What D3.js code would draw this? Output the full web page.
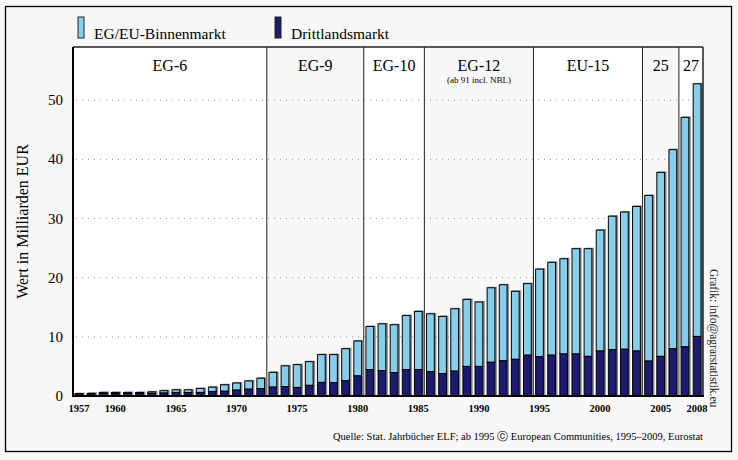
<!DOCTYPE html>
<html>
<head>
<meta charset="utf-8">
<script src="https://cdn.jsdelivr.net/npm/d3@7"></script>
<style>
  body { margin: 0; background: #f8f8f8; }
  text { font-family: "Liberation Serif", "Times New Roman", Times, serif; }
</style>
</head>
<body>
<div id="chart"></div>
<script>
// years 1957..2008
var years = d3.range(1957, 2009);

// Drittlandsmarkt (dark, bottom) in Mrd EUR
var dritt = [0.35, 0.3, 0.4, 0.4, 0.4, 0.45, 0.45, 0.5, 0.6, 0.6,
    0.6, 0.75, 0.8, 1.0, 1.15, 1.25, 1.5, 1.6, 1.45, 1.8,
    2.3, 2.25, 2.6, 3.4, 4.48, 4.3, 3.97, 4.48, 4.48, 4.14,
    3.8, 4.2, 5.0, 5.0, 5.7, 5.95, 6.2, 6.9, 6.65, 6.9,
    7.1, 7.1, 6.7, 7.6, 7.85, 7.9, 7.6, 5.9, 6.7, 8.0,
    8.3, 10.07];

// EG/EU-Binnenmarkt (light, stacked on top)
var binnen = [0.05, 0.15, 0.2, 0.2, 0.2, 0.15, 0.25, 0.4, 0.45, 0.45,
    0.67, 0.75, 1.1, 1.2, 1.4, 1.75, 2.5, 3.5, 3.85, 4.0,
    4.7, 4.75, 5.4, 5.9, 7.27, 7.9, 8.08, 9.12, 9.82, 9.76,
    9.65, 10.55, 11.33, 10.9, 12.6, 12.85, 11.5, 12.1, 14.8, 15.7,
    16.1, 17.8, 18.2, 20.45, 22.55, 23.2, 24.45, 28.0, 31.1, 33.65,
    38.8, 42.7];

// Erweiterungsphasen
var segNames = ["EG-6", "EG-9", "EG-10", "EG-12", "EU-15", "25", "27"];
var segStart = [1957, 1973, 1981, 1986, 1995, 2004, 2007];
var segEnd = [1972, 1980, 1985, 1994, 2003, 2006, 2008];
var segSub = ["", "", "", "(ab 91 incl. NBL)", "", "", ""];

var yTicks = [0, 10, 20, 30, 40, 50];
var xTickYears = [1957, 1960, 1965, 1970, 1975, 1980, 1985, 1990, 1995, 2000, 2005, 2008];

var colBinnen = "#87ceeb",
    colDritt = "#1b1b6f";

var W = 738, H = 460;
var margin = { top: 47, right: 35, bottom: 64, left: 73 };
var x0 = margin.left, x1 = W - margin.right,
    yTop = margin.top, yBot = H - margin.bottom;

var svg = d3.select("#chart")
    .append("svg")
    .attr("width", W)
    .attr("height", H);

// background + outer frame
svg.append("rect")
    .attr("x", 5.5).attr("y", 6.5)
    .attr("width", 726).attr("height", 445)
    .attr("fill", "#f8f8f8")
    .attr("stroke", "#000")
    .attr("stroke-width", 1.3);

// scales
var x = d3.scaleBand()
    .domain(years)
    .range([x0, x1])
    .paddingInner(0.36)
    .paddingOuter(0.17);

var y = d3.scaleLinear()
    .domain([0, 59])
    .range([yBot, yTop]);

// left edge / right edge of a segment (midway between bars)
function edgeL(yr) {
    if (yr == years[0]) return x0;
    return x(yr) - x.step() * x.paddingInner() / 2;
}
function edgeR(yr) {
    if (yr == years[years.length - 1]) return x1;
    return x(yr) + x.bandwidth() + x.step() * x.paddingInner() / 2;
}

// segment backgrounds (alternating white / grey)
svg.selectAll("rect.seg")
    .data(segNames)
    .enter()
    .append("rect")
    .attr("class", "seg")
    .attr("x", function(d, i) { return edgeL(segStart[i]); })
    .attr("y", yTop)
    .attr("width", function(d, i) { return edgeR(segEnd[i]) - edgeL(segStart[i]); })
    .attr("height", yBot - yTop)
    .attr("fill", function(d, i) { return i % 2 == 0 ? "#ffffff" : "#f8f8f8"; });

// dotted grid
svg.selectAll("line.grid")
    .data(yTicks.slice(1))
    .enter()
    .append("line")
    .attr("class", "grid")
    .attr("x1", x0 + 3).attr("x2", x1 - 2)
    .attr("y1", function(d) { return y(d); })
    .attr("y2", function(d) { return y(d); })
    .attr("stroke", "#999")
    .attr("stroke-width", 1)
    .attr("stroke-dasharray", "1,5");

// segment separator lines
svg.selectAll("line.sep")
    .data(segStart.slice(1))
    .enter()
    .append("line")
    .attr("class", "sep")
    .attr("x1", function(d) { return edgeL(d); })
    .attr("x2", function(d) { return edgeL(d); })
    .attr("y1", yTop).attr("y2", yBot)
    .attr("stroke", "#222")
    .attr("stroke-width", 1);

// segment labels
svg.selectAll("text.seg")
    .data(segNames)
    .enter()
    .append("text")
    .attr("class", "seg")
    .attr("x", function(d, i) { return (edgeL(segStart[i]) + edgeR(segEnd[i])) / 2; })
    .attr("y", yTop + 24)
    .attr("text-anchor", "middle")
    .style("font-size", "16px")
    .text(function(d) { return d; });

svg.selectAll("text.sub")
    .data(segNames.filter(function(d, i) { return segSub[i] != ""; }))
    .enter()
    .append("text")
    .attr("class", "sub")
    .attr("x", function(d) {
        var i = segNames.indexOf(d);
        return (edgeL(segStart[i]) + edgeR(segEnd[i])) / 2;
    })
    .attr("y", yTop + 36)
    .attr("text-anchor", "middle")
    .style("font-size", "9px")
    .text(function(d) { return segSub[segNames.indexOf(d)]; });

// bars
var bars = svg.selectAll("g.bar")
    .data(years)
    .enter()
    .append("g")
    .attr("class", "bar");

// grey shadow
bars.append("rect")
    .attr("x", function(d) { return x(d) + 1; })
    .attr("y", function(d, i) { return y(dritt[i] + binnen[i]) - 1; })
    .attr("width", x.bandwidth() + 1)
    .attr("height", function(d, i) { return yBot - y(dritt[i] + binnen[i]) + 1; })
    .attr("fill", "#8a8a8a");

bars.append("rect")
    .attr("x", function(d) { return x(d); })
    .attr("y", function(d, i) { return y(dritt[i] + binnen[i]); })
    .attr("width", x.bandwidth())
    .attr("height", function(d, i) { return y(dritt[i]) - y(dritt[i] + binnen[i]); })
    .attr("fill", colBinnen)
    .attr("stroke", "#000")
    .attr("stroke-width", 1);

bars.append("rect")
    .attr("x", function(d) { return x(d); })
    .attr("y", function(d, i) { return y(dritt[i]); })
    .attr("width", x.bandwidth())
    .attr("height", function(d, i) { return yBot - y(dritt[i]); })
    .attr("fill", colDritt)
    .attr("stroke", "#000")
    .attr("stroke-width", 1);

// plot frame: top + right thin, left + bottom thick
svg.append("line")
    .attr("x1", x0).attr("x2", x1)
    .attr("y1", yTop).attr("y2", yTop)
    .attr("stroke", "#222").attr("stroke-width", 1.3);
svg.append("line")
    .attr("x1", x1).attr("x2", x1)
    .attr("y1", yTop).attr("y2", yBot)
    .attr("stroke", "#222").attr("stroke-width", 1.5);
svg.append("line")
    .attr("x1", x0).attr("x2", x0)
    .attr("y1", yTop).attr("y2", yBot + 1)
    .attr("stroke", "#000").attr("stroke-width", 2);
svg.append("line")
    .attr("x1", x0 - 1).attr("x2", x1 + 1)
    .attr("y1", yBot).attr("y2", yBot)
    .attr("stroke", "#000").attr("stroke-width", 2.2);

// y tick labels
svg.selectAll("text.ytick")
    .data(yTicks)
    .enter()
    .append("text")
    .attr("class", "ytick")
    .attr("x", x0 - 10)
    .attr("y", function(d) { return y(d) + 5; })
    .attr("text-anchor", "end")
    .style("font-size", "15px")
    .text(function(d) { return d; });

// x tick labels
svg.selectAll("text.xtick")
    .data(xTickYears)
    .enter()
    .append("text")
    .attr("class", "xtick")
    .attr("x", function(d) { return x(d) + x.bandwidth() / 2; })
    .attr("y", yBot + 16)
    .attr("text-anchor", "middle")
    .style("font-size", "10.5px")
    .style("font-weight", "bold")
    .text(function(d) { return d; });

// y axis title
svg.append("text")
    .attr("transform", "translate(28," + ((yTop + yBot) / 2) + ") rotate(-90)")
    .attr("text-anchor", "middle")
    .style("font-size", "16px")
    .text("Wert in Milliarden EUR");

// legend
var legNames = ["EG/EU-Binnenmarkt", "Drittlandsmarkt"];
var legCols = [colBinnen, colDritt];
var legX = [78, 275];
svg.selectAll("rect.leg")
    .data(legNames)
    .enter()
    .append("rect")
    .attr("class", "leg")
    .attr("x", function(d, i) { return legX[i]; })
    .attr("y", 17)
    .attr("width", 6)
    .attr("height", 21)
    .attr("fill", function(d, i) { return legCols[i]; })
    .attr("stroke", "#222")
    .attr("stroke-width", 1);
svg.selectAll("text.leg")
    .data(legNames)
    .enter()
    .append("text")
    .attr("class", "leg")
    .attr("x", function(d, i) { return legX[i] + 16; })
    .attr("y", 39)
    .style("font-size", "15.5px")
    .text(function(d) { return d; });

// credit on the right
svg.append("text")
    .attr("transform", "translate(710,269) rotate(90)")
    .style("font-size", "11.5px")
    .style("fill", "#222")
    .text("Grafik: info@agrarstatistik.eu");

// source
svg.append("text")
    .attr("x", x1)
    .attr("y", 440)
    .attr("text-anchor", "end")
    .style("font-size", "10.5px")
    .text("Quelle: Stat. Jahrbücher ELF; ab 1995 \u24D2 European Communities, 1995\u20132009, Eurostat");
</script>
</body>
</html>
